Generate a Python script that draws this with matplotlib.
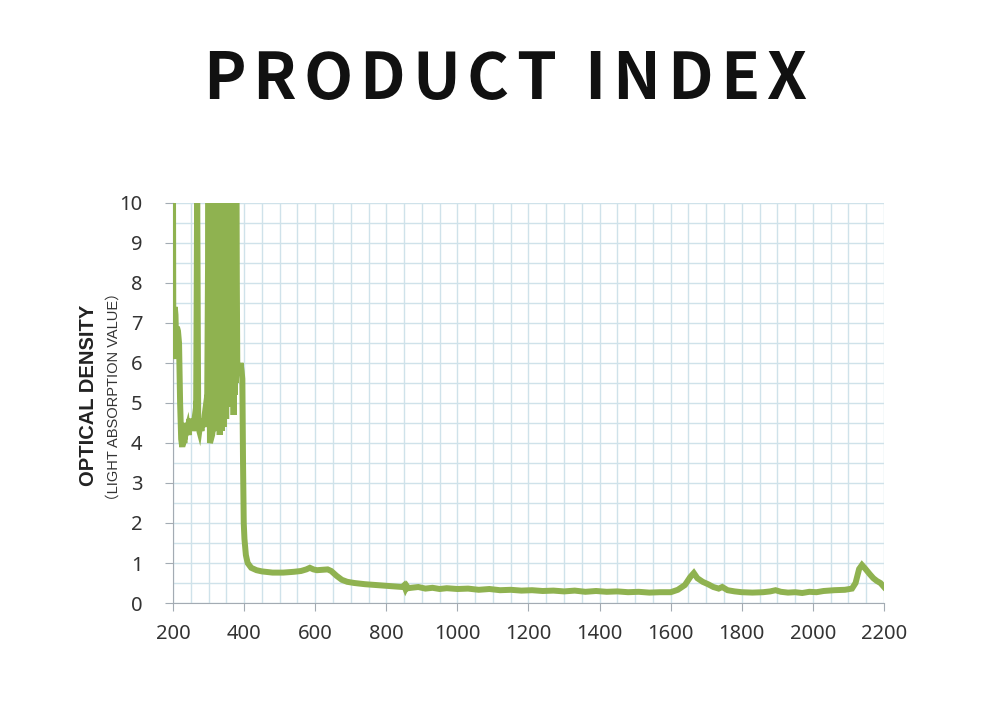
import matplotlib
matplotlib.use("Agg")
import matplotlib.pyplot as plt
from matplotlib.ticker import MultipleLocator
from matplotlib.font_manager import FontProperties

# wavelength (nm) and optical density
wavelength = [
    200, 201, 203, 205, 207, 209, 211, 214, 217, 220, 223, 226, 229, 232, 235,
    238, 241, 244, 247, 250, 253, 256, 259, 262, 265, 268, 271, 274, 277, 280,
    283, 286, 289, 292, 296, 300, 304, 307, 310, 313, 316,
    318, 319.5, 321, 322.5, 324, 325.5, 327, 328.5, 330, 331.5, 333, 334.5, 336,
    337.5, 339, 340.5, 342, 343.5, 345, 346.5, 348, 349.5, 351, 352.5, 354, 355.5,
    357, 358.5, 360, 361.5, 363, 364.5, 366, 367.5, 369, 370.5, 372, 373.5, 375,
    376.5, 378, 381, 384, 387, 390, 393, 395, 397, 399, 401,
    405, 410, 420, 435, 450, 480, 510, 540, 560, 575, 585, 595, 605, 620, 635,
    645, 660, 675, 690, 710, 740, 770, 800, 830, 845, 850, 854, 858, 862, 870,
    890, 910, 930, 950, 970, 1000, 1030, 1060, 1090, 1120, 1150, 1180, 1210,
    1240, 1270, 1300, 1330, 1360, 1390, 1420, 1450, 1480, 1510, 1540, 1570,
    1600, 1620, 1640, 1655, 1665, 1675, 1690, 1705, 1720, 1735, 1745, 1760,
    1780, 1800, 1830, 1860, 1880, 1895, 1910, 1930, 1950, 1970, 1990, 2010,
    2030, 2060, 2090, 2110, 2120, 2130, 2138, 2148, 2160, 2170, 2180, 2190, 2200,
]
density = [
    10.5, 6.3, 6.1, 7.4, 7.2, 6.4, 6.9, 6.8, 6.5, 5.0, 4.1, 3.9, 4.2, 4.0, 4.5,
    4.3, 4.4, 4.2, 4.6, 4.4, 4.6, 4.3, 4.5, 4.7, 4.6, 10.5, 4.4, 4.3, 4.5, 4.3,
    4.6, 4.4, 4.7, 4.9, 4.8, 10.5, 4.0, 4.1, 4.2, 4.4, 4.3,
    10.5, 4.5, 10.5, 4.3, 10.5, 4.6, 10.5, 4.4, 10.5, 4.2, 10.5, 4.5, 10.5,
    4.3, 10.5, 4.7, 10.5, 4.4, 10.5, 4.8, 10.5, 4.6, 10.5, 4.9, 10.5, 5.1,
    10.5, 5.4, 10.5, 5.6, 10.5, 5.5, 10.5, 5.8, 10.5, 4.7, 10.5, 5.2, 10.5,
    5.5, 10.5, 5.7, 5.9, 5.7, 6.0, 5.8, 5.6, 3.5, 2.0, 1.6,
    1.2, 1.0, 0.88, 0.82, 0.79, 0.76, 0.76, 0.78, 0.80, 0.84, 0.88, 0.84, 0.82, 0.83, 0.84,
    0.80, 0.68, 0.58, 0.53, 0.50, 0.47, 0.45, 0.43, 0.41, 0.40, 0.44, 0.35, 0.42, 0.37, 0.38,
    0.40, 0.36, 0.38, 0.35, 0.37, 0.35, 0.36, 0.33, 0.35, 0.32, 0.33, 0.31, 0.32,
    0.30, 0.31, 0.29, 0.31, 0.28, 0.30, 0.28, 0.29, 0.27, 0.28, 0.26, 0.27,
    0.27, 0.33, 0.45, 0.65, 0.75, 0.62, 0.53, 0.47, 0.40, 0.36, 0.40, 0.32,
    0.29, 0.27, 0.26, 0.27, 0.29, 0.32, 0.28, 0.26, 0.27, 0.25, 0.28, 0.27,
    0.30, 0.32, 0.33, 0.36, 0.50, 0.85, 0.95, 0.85, 0.72, 0.62, 0.55, 0.50, 0.40,
]

x_ticks = list(range(200, 2201, 200))
y_ticks = list(range(0, 11))

fig = plt.figure(figsize=(10, 7.08), dpi=100)
ax = fig.add_axes([0.173, 0.1483, 0.711, 0.565])

ax.plot(wavelength, density, color="#8fb250", lw=4.3, solid_joinstyle="miter", zorder=3)

ax.set_xlim(200, 2200)
ax.set_ylim(0, 10)
ax.set_xticks(x_ticks)
ax.set_yticks(y_ticks)
ax.xaxis.set_minor_locator(MultipleLocator(50))
ax.yaxis.set_minor_locator(MultipleLocator(0.5))
ax.grid(which="both", color="#cfe2ea", lw=1)
ax.set_axisbelow(True)

for side in ["top", "right"]:
    ax.spines[side].set_visible(False)
for side in ["left", "bottom"]:
    ax.spines[side].set_color("#a3abb3")
ax.tick_params(which="major", direction="out", length=6, color="#a3abb3",
               labelsize=14.5, labelcolor="#333333")
ax.tick_params(which="minor", length=0)
ax.tick_params(axis="y", pad=16)
ax.tick_params(axis="x", pad=9)
for lab in ax.get_xticklabels() + ax.get_yticklabels():
    lab.set_fontfamily("Noto Sans")

fig.text(0.088, 1 - 395 / 708, "OPTICAL DENSITY", rotation=90, ha="center", va="center",
         fontsize=14.5, fontweight="bold", family="Liberation Sans", color="#222222")
fig.text(0.1135, 1 - 397 / 708, "（LIGHT ABSORPTION VALUE）", rotation=90, ha="center",
         va="center", fontsize=10.5, family=["Liberation Sans", "Noto Sans CJK SC"],
         color="#333333")

# title with wide letter spacing
title = "PRODUCT INDEX"
renderer = fig.canvas.get_renderer()
fp = FontProperties(family="Noto Sans CJK SC", weight="bold", size=46)
widths = [renderer.get_text_width_height_descent(c, fp, ismath=False)[0] for c in title]
left_px, right_px = 203, 806
track = (right_px - left_px - sum(widths)) / (len(title) - 1)
xpos = left_px
for c, w in zip(title, widths):
    fig.text(xpos / 1000, 1 - 99 / 708, c, fontproperties=fp, ha="left", va="baseline",
             color="#111111")
    xpos += w + track

plt.savefig("out.png", dpi=100)
